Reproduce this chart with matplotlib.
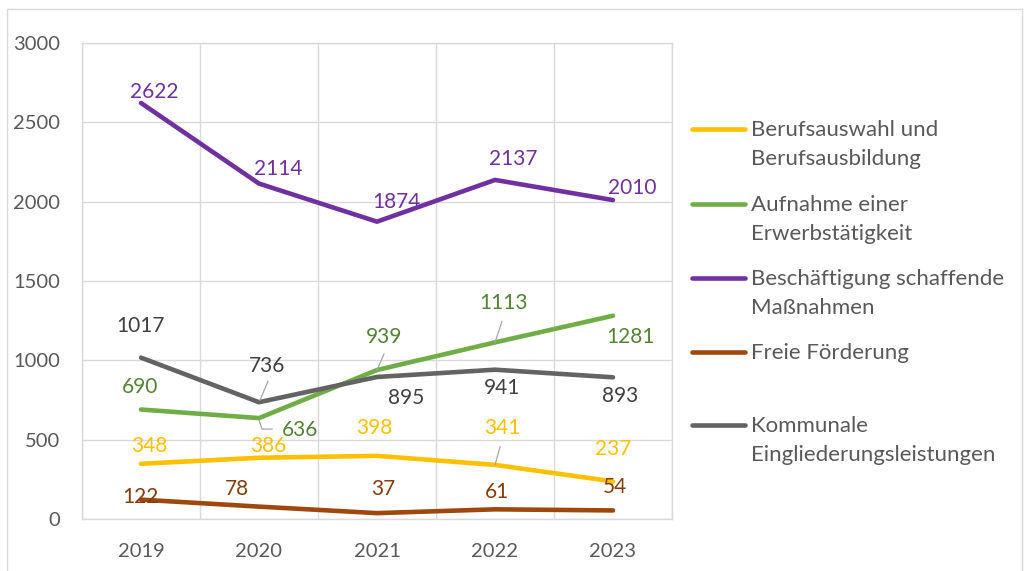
import matplotlib.pyplot as plt
from matplotlib.lines import Line2D
from matplotlib.patches import Rectangle

plt.rcParams['font.family'] = ['Lato', 'DejaVu Sans']

years = ["2019", "2020", "2021", "2022", "2023"]

berufsauswahl = [348, 386, 398, 341, 237]
aufnahme = [690, 636, 939, 1113, 1281]
beschaeftigung = [2622, 2114, 1874, 2137, 2010]
freie = [122, 78, 37, 61, 54]
kommunale = [1017, 736, 895, 941, 893]

names = ["Berufsauswahl und\nBerufsausbildung",
         "Aufnahme einer\nErwerbstätigkeit",
         "Beschäftigung schaffende\nMaßnahmen",
         "Freie Förderung",
         "Kommunale\nEingliederungsleistungen"]

# line colour, label colour
styles = [("#FFC000", "#FFC000"),
          ("#70AD47", "#548235"),
          ("#7030A0", "#7030A0"),
          ("#9E480E", "#843C0C"),
          ("#636363", "#404040")]

# label offsets in pixels (dx right, dy up)
offsets = [
    [(8, 18), (9, 12), (-3, 28), (7, 37), (0, 32)],
    [(-1, 23), (41, -12), (7, 33), (9, 39), (17, -21)],
    [(13, 11), (19, 15), (19, 20), (18, 21), (19, 12)],
    [(-1, 3), (-22, 18), (6, 24), (2, 17), (2, 23)],
    [(0, 32), (8, 36), (29, -21), (7, -18), (7, -19)],
]
# leader lines for some labels: polyline in pixel offsets from the point
leaders = {
    (4, 1): [(1, 2), (9, 21)],
    (1, 1): [(0, -2), (3, -11), (13, -11)],
    (1, 2): [(0, 0), (7, 16)],
    (1, 3): [(0, 0), (7, 21)],
    (0, 3): [(0, 0), (5, 18)],
}

W, H = 1027, 571
fig = plt.figure(figsize=(W / 100, H / 100), dpi=100)
ax = fig.add_axes([82 / W, 1 - 519 / H, 590 / W, 476 / H])

series = [berufsauswahl, aufnahme, beschaeftigung, freie, kommunale]
x = list(range(len(years)))

ax.set_xlim(-0.5, 4.5)
ax.set_ylim(0, 3000)

for i, vals in enumerate(series):
    ax.plot(x, vals, color=styles[i][0], lw=3.3, solid_capstyle='round',
            solid_joinstyle='round', zorder=3)

px = 0.72  # points per pixel at 100 dpi
for i, vals in enumerate(series):
    for j, v in enumerate(vals):
        dx, dy = offsets[i][j]
        ax.annotate(str(v), (j, v), xytext=(dx * px, dy * px),
                    textcoords='offset points', ha='center', va='center',
                    fontsize=15, color=styles[i][1], zorder=5)
        if (i, j) in leaders:
            bx, by = ax.transData.transform((j, v))
            pts = leaders[(i, j)]
            fig.add_artist(Line2D([bx + p[0] for p in pts], [by + p[1] for p in pts],
                                  color="#A6A6A6", lw=0.9, zorder=4, transform=None))

ax.set_xticks(x)
ax.set_xticklabels(years)
ax.set_yticks(range(0, 3001, 500))
ax.set_xticks([k + 0.5 for k in range(-1, 5)], minor=True)
ax.grid(True, which='minor', axis='x', color="#D9D9D9", lw=1)
ax.grid(True, which='major', axis='y', color="#D9D9D9", lw=1)
ax.tick_params(which='both', length=0)
ax.tick_params(axis='y', pad=16, labelsize=14.5, labelcolor="#595959")
ax.tick_params(axis='x', pad=17, labelsize=14.5, labelcolor="#595959")
for s in ax.spines.values():
    s.set_color("#D9D9D9")
    s.set_linewidth(1)
ax.set_axisbelow(True)

# legend drawn by hand to match the layout
leg_y = [129, 204, 278, 352, 425]
for i, yy in enumerate(leg_y):
    fy = 1 - yy / H
    fig.add_artist(Line2D([692 / W, 745 / W], [fy, fy], color=styles[i][0], lw=3.3,
                          solid_capstyle='round'))
    fig.text(751 / W, fy + 9 / H, names[i], ha='left', va='top', fontsize=16,
             color="#595959", linespacing=1.55)

fig.add_artist(Rectangle((6.5 / W, -0.01), (1022 - 6.5) / W, 1 - 9 / H + 0.01,
                         fill=False, edgecolor="#D9D9D9", lw=1))

fig.savefig("out.png", dpi=100)
